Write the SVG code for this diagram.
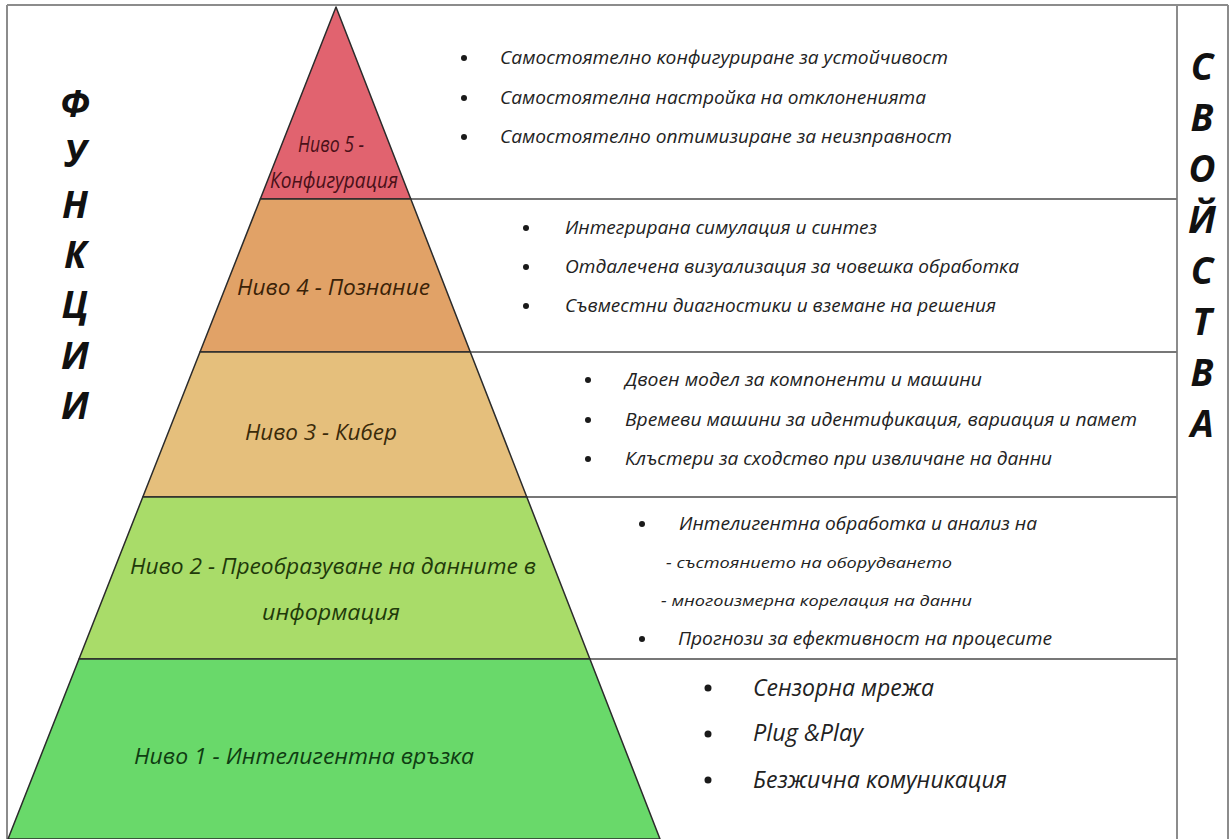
<svg xmlns="http://www.w3.org/2000/svg" width="1230" height="839" viewBox="0 0 1230 839">
  <style>
    .frame { stroke: #8c8c8c; stroke-width: 2; fill: none; }
    .sep { stroke: #777777; stroke-width: 2; fill: none; }
    .lvl { stroke: #2b2b2b; stroke-width: 1.5; stroke-linejoin: round; }
    .lbl { font-family: "Open Sans", "Noto Sans", "DejaVu Sans", sans-serif; font-style: italic; font-size: 21px; }
    .desc { font-family: "Open Sans", "Noto Sans", "DejaVu Sans", sans-serif; font-style: italic; font-size: 18px; fill: #222222; }
    .small { font-size: 15px; }
    .big { font-size: 23px; }
    .vert { font-family: "Open Sans", "Noto Sans", "DejaVu Sans", sans-serif; font-style: italic; font-weight: bold; font-size: 37px; fill: #111111; text-anchor: middle; }
    .dot { fill: #1a1a1a; }
  </style>
  <rect x="0" y="0" width="1230" height="839" fill="#ffffff"/>

  <g id="frame">
    <line class="frame" x1="7" y1="5" x2="1228" y2="5"/>
    <line class="frame" x1="7" y1="5" x2="7" y2="839"/>
    <line class="frame" x1="1177" y1="5" x2="1177" y2="839"/>
    <line class="frame" x1="1228" y1="5" x2="1228" y2="839"/>
  </g>

  <g id="connectors">
    <line class="sep" x1="411" y1="199" x2="1177" y2="199"/>
    <line class="sep" x1="470" y1="352" x2="1177" y2="352"/>
    <line class="sep" x1="527" y1="497" x2="1177" y2="497"/>
    <line class="sep" x1="590" y1="659" x2="1177" y2="659"/>
  </g>

  <g id="level5">
    <polygon class="lvl" fill="#e1636f" points="336,7 410.8,199 260.3,199"/>
    <text class="lbl" fill="#4a1018" font-size="17" x="298" y="152" textLength="66" lengthAdjust="spacingAndGlyphs">Ниво 5 -</text>
    <text class="lbl" fill="#4a1018" font-size="17" x="270" y="188" textLength="128" lengthAdjust="spacingAndGlyphs">Конфигурация</text>
  </g>
  <g id="level4">
    <polygon class="lvl" fill="#e1a267" points="260.3,199 410.8,199 470.3,352 200,352"/>
    <text class="lbl" fill="#3a2208" x="237" y="295" textLength="193" lengthAdjust="spacingAndGlyphs">Ниво 4 - Познание</text>
  </g>
  <g id="level3">
    <polygon class="lvl" fill="#e5bf7c" points="200,352 470.3,352 526.8,497 142.8,497"/>
    <text class="lbl" fill="#3a2a0a" x="245" y="440" textLength="152" lengthAdjust="spacingAndGlyphs">Ниво 3 - Кибер</text>
  </g>
  <g id="level2">
    <polygon class="lvl" fill="#a9dc69" points="142.8,497 526.8,497 589.9,659 79,659"/>
    <text class="lbl" fill="#1f3a0a" x="130" y="574" textLength="406" lengthAdjust="spacingAndGlyphs">Ниво 2 - Преобразуване на данните в</text>
    <text class="lbl" fill="#1f3a0a" x="262" y="620" textLength="138" lengthAdjust="spacingAndGlyphs">информация</text>
  </g>
  <g id="level1">
    <polygon class="lvl" fill="#69d96a" points="79,659 589.9,659 660,839 8,839"/>
    <text class="lbl" fill="#0f3d12" x="134" y="764" textLength="340" lengthAdjust="spacingAndGlyphs">Ниво 1 - Интелигентна връзка</text>
  </g>

  <g id="props5">
    <circle class="dot" cx="464" cy="58" r="3"/>
    <circle class="dot" cx="464" cy="98" r="3"/>
    <circle class="dot" cx="464" cy="137" r="3"/>
    <text class="desc" x="500" y="64" textLength="448" lengthAdjust="spacingAndGlyphs">Самостоятелно конфигуриране за устойчивост</text>
    <text class="desc" x="500" y="104" textLength="426" lengthAdjust="spacingAndGlyphs">Самостоятелна настройка на отклоненията</text>
    <text class="desc" x="500" y="143" textLength="452" lengthAdjust="spacingAndGlyphs">Самостоятелно оптимизиране за неизправност</text>
  </g>
  <g id="props4">
    <circle class="dot" cx="526" cy="228" r="3"/>
    <circle class="dot" cx="526" cy="267" r="3"/>
    <circle class="dot" cx="526" cy="306" r="3"/>
    <text class="desc" x="565" y="234" textLength="312" lengthAdjust="spacingAndGlyphs">Интегрирана симулация и синтез</text>
    <text class="desc" x="565" y="273" textLength="454" lengthAdjust="spacingAndGlyphs">Отдалечена визуализация за човешка обработка</text>
    <text class="desc" x="565" y="312" textLength="431" lengthAdjust="spacingAndGlyphs">Съвместни диагностики и вземане на решения</text>
  </g>
  <g id="props3">
    <circle class="dot" cx="588" cy="380" r="3"/>
    <circle class="dot" cx="588" cy="420" r="3"/>
    <circle class="dot" cx="588" cy="459" r="3"/>
    <text class="desc" x="625" y="386" textLength="357" lengthAdjust="spacingAndGlyphs">Двоен модел за компоненти и машини</text>
    <text class="desc" x="625" y="426" textLength="512" lengthAdjust="spacingAndGlyphs">Времеви машини за идентификация, вариация и памет</text>
    <text class="desc" x="625" y="465" textLength="427" lengthAdjust="spacingAndGlyphs">Клъстери за сходство при извличане на данни</text>
  </g>
  <g id="props2">
    <circle class="dot" cx="642" cy="524" r="3"/>
    <circle class="dot" cx="642" cy="639" r="3"/>
    <text class="desc" x="679" y="530" textLength="358" lengthAdjust="spacingAndGlyphs">Интелигентна обработка и анализ на</text>
    <text class="desc small" x="666" y="568" textLength="286" lengthAdjust="spacingAndGlyphs">- състоянието на оборудването</text>
    <text class="desc small" x="661" y="606" textLength="311" lengthAdjust="spacingAndGlyphs">- многоизмерна корелация на данни</text>
    <text class="desc" x="678" y="645" textLength="374" lengthAdjust="spacingAndGlyphs">Прогнози за ефективност на процесите</text>
  </g>
  <g id="props1">
    <circle class="dot" cx="708" cy="688" r="3.5"/>
    <circle class="dot" cx="708" cy="734" r="3.5"/>
    <circle class="dot" cx="708" cy="780" r="3.5"/>
    <text class="desc big" x="753" y="696" textLength="181" lengthAdjust="spacingAndGlyphs">Сензорна мрежа</text>
    <text class="desc big" x="753" y="741" textLength="110" lengthAdjust="spacingAndGlyphs">Plug &amp;Play</text>
    <text class="desc big" x="753" y="788" textLength="254" lengthAdjust="spacingAndGlyphs">Безжична комуникация</text>
  </g>

  <g id="functions">
    <text class="vert" x="75" y="117">Ф</text>
    <text class="vert" x="75" y="167">У</text>
    <text class="vert" x="75" y="218">Н</text>
    <text class="vert" x="75" y="268">К</text>
    <text class="vert" x="75" y="318">Ц</text>
    <text class="vert" x="75" y="369">И</text>
    <text class="vert" x="75" y="419">И</text>
  </g>

  <g id="properties">
    <text class="vert" x="1202" y="80">С</text>
    <text class="vert" x="1202" y="131">В</text>
    <text class="vert" x="1202" y="182">О</text>
    <text class="vert" x="1202" y="233">Й</text>
    <text class="vert" x="1202" y="284">С</text>
    <text class="vert" x="1202" y="335">Т</text>
    <text class="vert" x="1202" y="386">В</text>
    <text class="vert" x="1202" y="437">А</text>
  </g>
</svg>
